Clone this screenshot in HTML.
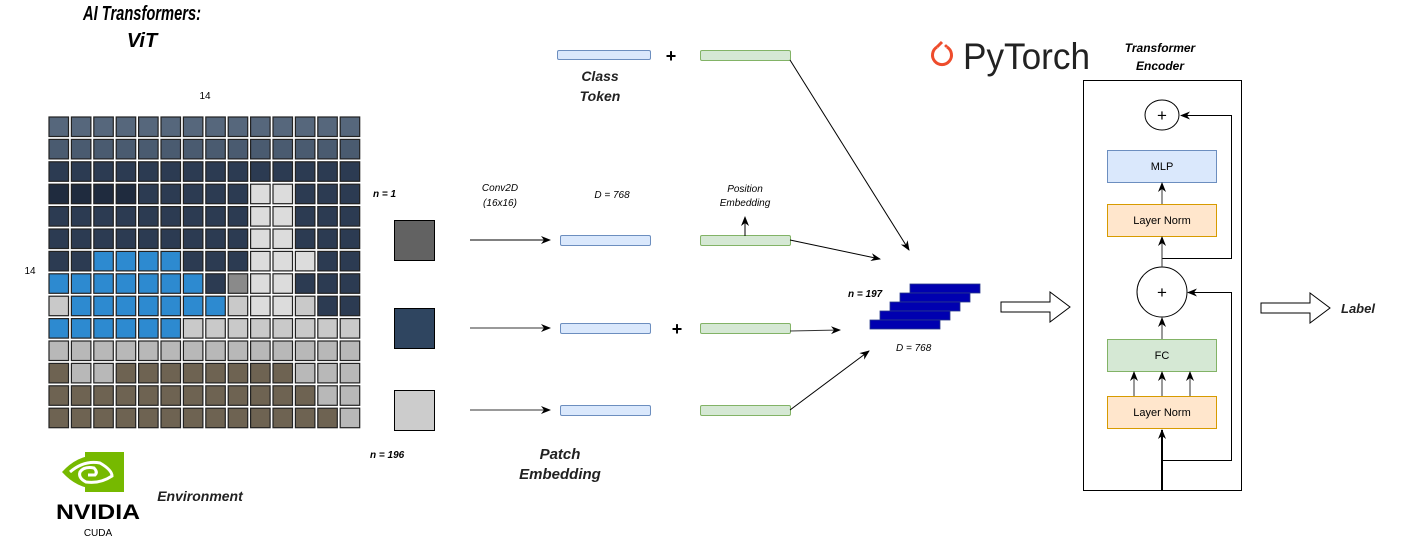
<!DOCTYPE html>
<html><head><meta charset="utf-8"><style>
html,body{margin:0;padding:0;background:#fff;}
svg{display:block;}
text{font-family:"Liberation Sans",sans-serif;}
.bi{font-weight:bold;font-style:italic;}
.i{font-style:italic;}
</style></head><body>
<svg id="s" width="1401" height="545" viewBox="0 0 1401 545" xmlns="http://www.w3.org/2000/svg">
<defs>
<marker id="a" markerWidth="10" markerHeight="10" refX="9" refY="5" orient="auto" markerUnits="userSpaceOnUse"><path d="M0,1 L10,5 L0,9 L3,5 Z" fill="#000"/></marker>
</defs>
<!-- title -->
<text x="142" y="20" text-anchor="middle" class="bi" font-size="20" textLength="118" lengthAdjust="spacingAndGlyphs">AI Transformers:</text>
<text x="142" y="47" text-anchor="middle" class="bi" font-size="20">ViT</text>
<text x="205" y="99" text-anchor="middle" font-size="10">14</text>
<text x="30" y="274" text-anchor="middle" font-size="10">14</text>
<g id="grid"></g>

<!-- NVIDIA -->
<rect x="85" y="452" width="39" height="40" fill="#76b900"/>
<path d="M62,472 Q80,452 104,456 L104,488 Q80,492 62,472 Z" fill="#76b900"/>
<path d="M70,472 Q84,460 100,463 Q112,470 112,476 Q100,484 86,482 Q78,478 80,472 Q84,466 94,468 Q98,472 95,475 L88,475" fill="none" stroke="#fff" stroke-width="3"/>
<text x="98" y="519" text-anchor="middle" font-size="21" font-weight="bold" textLength="84" lengthAdjust="spacingAndGlyphs">NVIDIA</text>
<text x="98" y="536" text-anchor="middle" font-size="10">CUDA</text>
<text x="200" y="501" text-anchor="middle" class="i" font-size="14" font-weight="bold" fill="#222">Environment</text>

<!-- patches -->
<text x="373" y="197" class="bi" font-size="10">n = 1</text>
<text x="370" y="458" class="bi" font-size="10">n = 196</text>
<rect x="394.5" y="220.5" width="40" height="40" fill="#626262" stroke="#000"/>
<rect x="394.5" y="308.5" width="40" height="40" fill="#2f4560" stroke="#000"/>
<rect x="394.5" y="390.5" width="40" height="40" fill="#cccccc" stroke="#000"/>
<text x="500" y="191" text-anchor="middle" class="i" font-size="10">Conv2D</text>
<text x="500" y="206" text-anchor="middle" class="i" font-size="10">(16x16)</text>
<text x="612" y="198" text-anchor="middle" class="i" font-size="10">D = 768</text>
<line x1="470" y1="240" x2="550" y2="240" stroke="#000" marker-end="url(#a)"/>
<line x1="470" y1="328" x2="550" y2="328" stroke="#333" marker-end="url(#a)"/>
<line x1="470" y1="410" x2="550" y2="410" stroke="#333" marker-end="url(#a)"/>
<g fill="#dae8fc" stroke="#6c8ebf">
<rect x="557.5" y="50.5" width="93" height="9" rx="1.5"/>
<rect x="560.5" y="235.5" width="90" height="10" rx="1.5"/>
<rect x="560.5" y="323.5" width="90" height="10" rx="1.5"/>
<rect x="560.5" y="405.5" width="90" height="10" rx="1.5"/>
</g>
<g fill="#d5e8d4" stroke="#82b366">
<rect x="700.5" y="50.5" width="90" height="10" rx="1.5"/>
<rect x="700.5" y="235.5" width="90" height="10" rx="1.5"/>
<rect x="700.5" y="323.5" width="90" height="10" rx="1.5"/>
<rect x="700.5" y="405.5" width="90" height="10" rx="1.5"/>
</g>
<text x="671" y="62" text-anchor="middle" font-size="18" font-weight="bold">+</text>
<text x="677" y="335" text-anchor="middle" font-size="18" font-weight="bold">+</text>
<text x="600" y="81" text-anchor="middle" class="bi" font-size="14" fill="#222">Class</text>
<text x="600" y="101" text-anchor="middle" class="bi" font-size="14" fill="#222">Token</text>
<text x="745" y="192" text-anchor="middle" class="i" font-size="10">Position</text>
<text x="745" y="206" text-anchor="middle" class="i" font-size="10">Embedding</text>
<line x1="745" y1="236" x2="745" y2="217" stroke="#000" marker-end="url(#a)"/>
<text x="560" y="459" text-anchor="middle" class="bi" font-size="15" fill="#222">Patch</text>
<text x="560" y="479" text-anchor="middle" class="bi" font-size="15" fill="#222">Embedding</text>

<line x1="790" y1="60" x2="909" y2="250" stroke="#000" marker-end="url(#a)"/>
<line x1="790" y1="240" x2="880" y2="259" stroke="#000" marker-end="url(#a)"/>
<line x1="790" y1="331" x2="840" y2="330" stroke="#333" marker-end="url(#a)"/>
<line x1="790" y1="410" x2="869" y2="351" stroke="#000" marker-end="url(#a)"/>

<!-- stack -->
<g fill="#0000b0" stroke="#2a3a8a" stroke-width="0.8">
<rect x="910" y="284" width="70" height="9"/>
<rect x="900" y="293" width="70" height="9"/>
<rect x="890" y="302" width="70" height="9"/>
<rect x="880" y="311" width="70" height="9"/>
<rect x="870" y="320" width="70" height="9"/>
</g>
<text x="848" y="297" class="bi" font-size="10">n = 197</text>
<text x="896" y="351" class="i" font-size="10">D = 768</text>
<path d="M1001,302 H1050 V292 L1070,307 L1050,322 V312 H1001 Z" fill="#fff" stroke="#000"/>

<!-- pytorch -->
<path d="M937,47 A9.5,9.5 0 1 0 947,47" fill="none" stroke="#ee4c2c" stroke-width="3"/>
<line x1="937" y1="47" x2="942" y2="42" stroke="#ee4c2c" stroke-width="3"/>
<circle cx="946" cy="46" r="1.5" fill="#ee4c2c"/>
<text x="963" y="69" font-size="37" fill="#222" textLength="127" lengthAdjust="spacingAndGlyphs">PyTorch</text>
<text x="1160" y="52" text-anchor="middle" class="bi" font-size="12">Transformer</text>
<text x="1160" y="70" text-anchor="middle" class="bi" font-size="12">Encoder</text>

<!-- encoder -->
<rect x="1083.5" y="80.5" width="158" height="410" fill="none" stroke="#000"/>
<ellipse cx="1162" cy="115" rx="17" ry="15" fill="#fff" stroke="#000"/>
<text x="1162" y="121" text-anchor="middle" font-size="17">+</text>
<rect x="1107.5" y="150.5" width="109" height="32" fill="#dae8fc" stroke="#6c8ebf"/>
<text x="1162" y="170" text-anchor="middle" font-size="11">MLP</text>
<rect x="1107.5" y="204.5" width="109" height="32" fill="#ffe6cc" stroke="#d79b00"/>
<text x="1162" y="224" text-anchor="middle" font-size="11">Layer Norm</text>
<circle cx="1162" cy="292" r="25" fill="#fff" stroke="#000"/>
<text x="1162" y="298" text-anchor="middle" font-size="17">+</text>
<rect x="1107.5" y="339.5" width="109" height="32" fill="#d5e8d4" stroke="#82b366"/>
<text x="1162" y="359" text-anchor="middle" font-size="11">FC</text>
<rect x="1107.5" y="396.5" width="109" height="32" fill="#ffe6cc" stroke="#d79b00"/>
<text x="1162" y="416" text-anchor="middle" font-size="11">Layer Norm</text>
<g stroke="#333">
<line x1="1162" y1="204" x2="1162" y2="183" marker-end="url(#a)"/>
<line x1="1162" y1="267" x2="1162" y2="237" marker-end="url(#a)"/>
<line x1="1162" y1="339" x2="1162" y2="318" marker-end="url(#a)"/>
<line x1="1134" y1="396" x2="1134" y2="372" marker-end="url(#a)"/>
<line x1="1162" y1="396" x2="1162" y2="372" marker-end="url(#a)"/>
<line x1="1190" y1="396" x2="1190" y2="372" marker-end="url(#a)"/>
</g>
<line x1="1162" y1="490" x2="1162" y2="430" stroke="#000" stroke-width="2" marker-end="url(#a)"/>
<path d="M1162.5,258.5 H1231.5 V115.5 H1181" fill="none" stroke="#000" marker-end="url(#a)"/>
<path d="M1162.5,460.5 H1231.5 V292.5 H1188" fill="none" stroke="#000" marker-end="url(#a)"/>

<path d="M1261,303 H1310 V293 L1330,308 L1310,323 V313 H1261 Z" fill="#fff" stroke="#000"/>
<text x="1341" y="313" class="bi" font-size="13" fill="#222">Label</text>
</svg>
<script>
var C={S:"#56677c",s:"#4a5b70",N:"#2c3b52",D:"#1f2b3e",W:"#dcdcdc",B:"#2d8ad0",L:"#c9c9c9",l:"#b8b8b8",T:"#6e6352",G:"#8a8a8a"};
var rows=["SSSSSSSSSSSSSS","ssssssssssssss","NNNNNNNNNNNNNN","DDDDNNNNNWWNNN","NNNNNNNNNWWNNN","NNNNNNNNNWWNNN","NNBBBBNNNWWWNN","BBBBBBBNGWWNNN","LBBBBBBBLWWLNN","BBBBBBLLLLLLLL","llllllllllllll","TllTTTTTTTTlll","TTTTTTTTTTTTll","TTTTTTTTTTTTTl"];
var g=document.getElementById("grid"),h="";
for(var r=0;r<14;r++)for(var c=0;c<14;c++){var x=49+c*22.4,y=117+r*22.4;h+='<rect x="'+x.toFixed(1)+'" y="'+y.toFixed(1)+'" width="19.5" height="19.5" fill="'+C[rows[r][c]]+'" stroke="#222" stroke-width="1.2"/>';}
g.innerHTML=h;
</script>
</body></html>
